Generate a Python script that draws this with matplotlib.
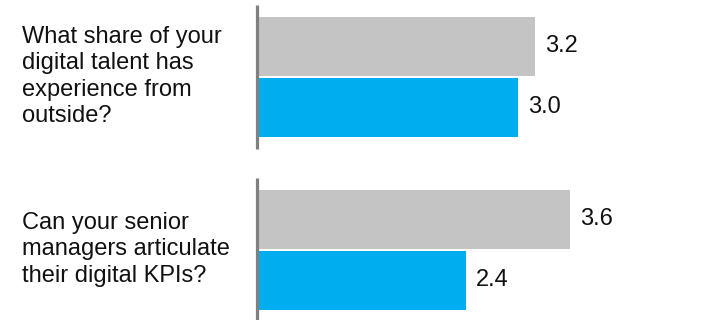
import matplotlib

matplotlib.use("Agg")
import matplotlib.pyplot as plt

# dados
perguntas = ["What share of your\ndigital talent has\nexperience from\noutside?",
             "Can your senior\nmanagers articulate\ntheir digital KPIs?"]
valores_cinza = [3.2, 3.6]
valores_azul = [3.0, 2.4]

COR_CINZA = "#c4c4c4"
COR_AZUL = "#00aeef"
COR_EIXO = "#808080"

plt.rcParams["font.family"] = ["Liberation Sans", "DejaVu Sans"]

fig = plt.figure(figsize=(7.2, 3.2), dpi=100)
ax = fig.add_axes([0, 0, 1, 1])
px = 86.7  # pixels por unidade
ax.set_xlim(-258 / px, (720 - 258) / px)
ax.set_ylim(320, 0)
ax.axis("off")

passo = 173
altura = 59
for i, (perg, vc, va) in enumerate(zip(perguntas, valores_cinza, valores_azul)):
    centro = 76.5 + i * passo
    yc, ya = centro - 30.5, centro + 30.5
    ax.barh(yc, vc, height=altura, color=COR_CINZA, left=0)
    ax.barh(ya, va, height=altura, color=COR_AZUL, left=0)
    for y, v in [(yc, vc), (ya, va)]:
        ax.annotate(f"{v:.1f}", (v, y), xytext=(7, 0), textcoords="offset points",
                    va="center", ha="left", fontsize=17, color="#111111")
    ax.plot([-1.5 / px, -1.5 / px], [centro - 72, centro + 72], color=COR_EIXO,
            linewidth=2.3, solid_capstyle="butt")
    ax.text(-236 / px, centro, perg, ha="left", va="center", fontsize=17,
            color="#111111", linespacing=1.25)

fig.savefig("out.png", dpi=100)
